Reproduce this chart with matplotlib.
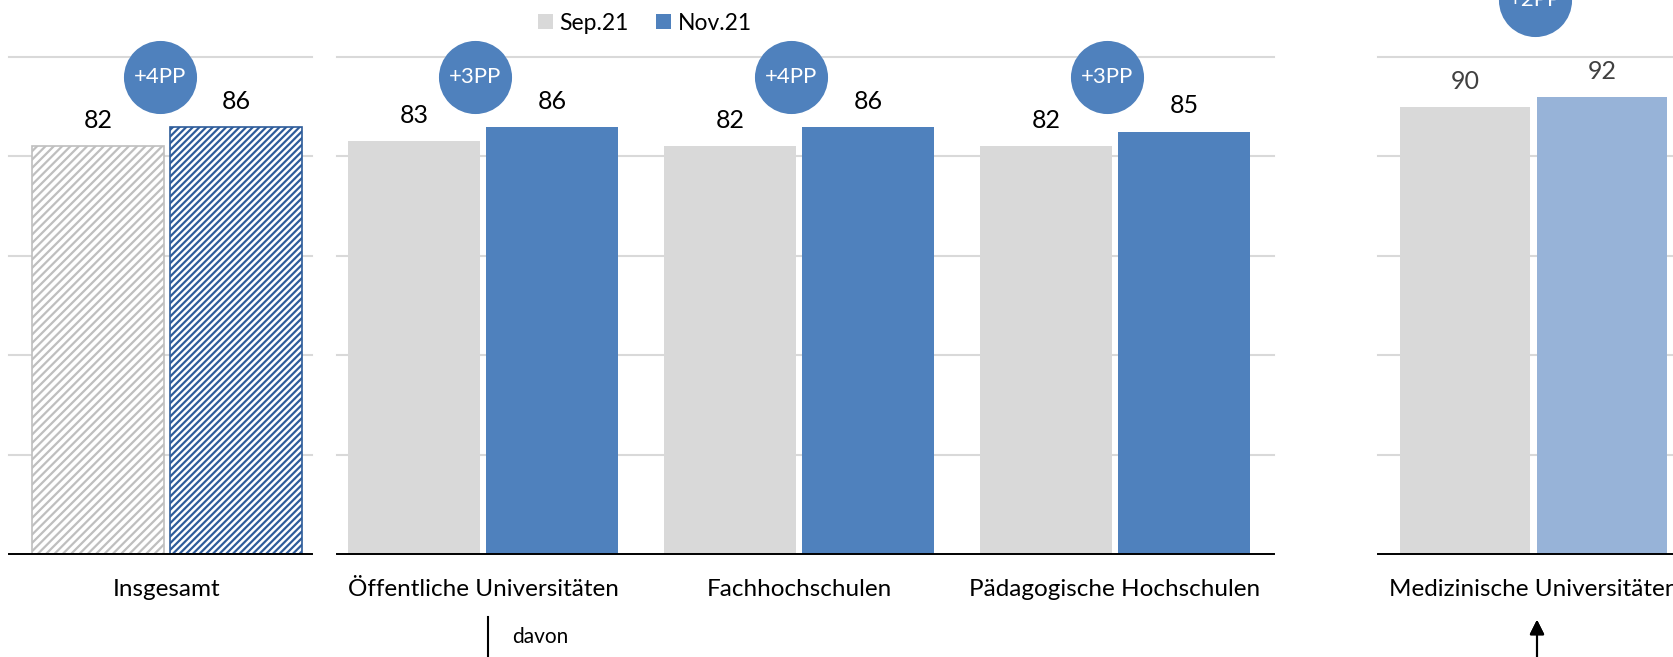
import matplotlib
matplotlib.use("Agg")
import matplotlib.pyplot as plt
from matplotlib.lines import Line2D

plt.rcParams['font.family'] = ['Lato', 'DejaVu Sans']
plt.rcParams['hatch.linewidth'] = 1.6

# data
series_names = ['Sep.21', 'Nov.21']

total_cats = ['Insgesamt']
total_sep = [82]
total_nov = [86]

type_cats = ['Öffentliche Universitäten', 'Fachhochschulen', 'Pädagogische Hochschulen']
type_sep = [83, 82, 82]
type_nov = [86, 86, 85]

med_cats = ['Medizinische Universitäten']
med_sep = [90]
med_nov = [92]

GRAY = '#D9D9D9'
BLUE = '#4F81BD'
LIGHT_BLUE = '#97B3D8'
GRID = '#D9D9D9'

W, H = 1674, 657
BASE_Y, TOP_Y = 554, 57

fig = plt.figure(figsize=(W / 100, H / 100), dpi=100)


def px_axes(x0, x1):
    return fig.add_axes([x0 / W, (H - BASE_Y) / H, (x1 - x0) / W, (BASE_Y - TOP_Y) / H])


def setup(ax, xlim):
    ax.set_xlim(*xlim)
    ax.set_ylim(0, 100)
    for s in ax.spines.values():
        s.set_visible(False)
    ax.set_yticks([])
    for g in [20, 40, 60, 80, 100]:
        ax.axhline(g, color=GRID, lw=1.5, zorder=0, clip_on=False)
    ax.axhline(0, color='black', lw=1.4, zorder=3, clip_on=False)
    ax.tick_params(axis='x', length=0, pad=18, labelsize=17.5)


def draw(ax, cats, sep, nov, width, off, sep_kw, nov_kw, label_color='black', bubble_y=96, bubble_dx=-0.03):
    xs = list(range(len(cats)))
    b1 = ax.bar([x - off for x in xs], sep, width, zorder=2, **sep_kw)
    b2 = ax.bar([x + off for x in xs], nov, width, zorder=2, **nov_kw)
    for x, a, b in zip(xs, sep, nov):
        for xx, v in [(x - off, a), (x + off, b)]:
            ax.annotate(f'{v}', (xx, v), xytext=(0, 13), textcoords='offset points',
                        ha='center', va='baseline', fontsize=18, color=label_color)
        ax.scatter([x + bubble_dx], [bubble_y], s=2770, color=BLUE, zorder=5, clip_on=False, linewidths=0)
        ax.text(x + bubble_dx, bubble_y, f'+{b - a}PP', color='white', fontsize=16,
                ha='center', va='center', zorder=6)
    ax.set_xticks(xs)
    ax.set_xticklabels(cats)
    return b1, b2


# left panel: total, hatched
ax_l = px_axes(9, 312)
setup(ax_l, (-(167 - 9) / 303, (312 - 167) / 303))
draw(ax_l, total_cats, total_sep, total_nov, 0.436, 0.228,
     dict(facecolor='white', edgecolor='#BFBFBF', hatch='////', linewidth=1.2),
     dict(facecolor='white', edgecolor='#2E5C9A', hatch='/////', linewidth=1.2),
     bubble_dx=-0.023)

# middle panel: by institution type
ax_m = px_axes(337, 1274)
setup(ax_m, (-0.462, 2.503))
h1, h2 = draw(ax_m, type_cats, type_sep, type_nov, 0.418, 0.218,
              dict(color=GRAY), dict(color=BLUE), bubble_dx=-0.025)

# right panel: medical universities
ax_r = px_axes(1378, 1689)
setup(ax_r, (-0.5, 0.5))
draw(ax_r, med_cats, med_sep, med_nov, 0.42, 0.22,
     dict(color=GRAY), dict(color=LIGHT_BLUE), label_color='#404040', bubble_y=111.5, bubble_dx=0.005)

fig.legend([h1, h2], series_names, loc='upper center', bbox_to_anchor=(645 / W, 1.0),
           ncol=2, frameon=False, fontsize=16.5, handlelength=0.65, handleheight=0.65,
           handletextpad=0.3, columnspacing=1.2, borderaxespad=0.15)

# "davon" marker and arrow
fig.add_artist(Line2D([488 / W, 488 / W], [0, (H - 617) / H], color='black', lw=1.5))
fig.text(512 / W, (H - 643) / H, 'davon', fontsize=15, ha='left', va='baseline')
fig.add_artist(plt.annotate('', xy=(1537 / W, (H - 617) / H), xytext=(1537 / W, -0.01),
                            xycoords='figure fraction', textcoords='figure fraction',
                            arrowprops=dict(arrowstyle='-|>', color='black', lw=1.5,
                                            mutation_scale=22)))

fig.savefig('out.png', dpi=100)
